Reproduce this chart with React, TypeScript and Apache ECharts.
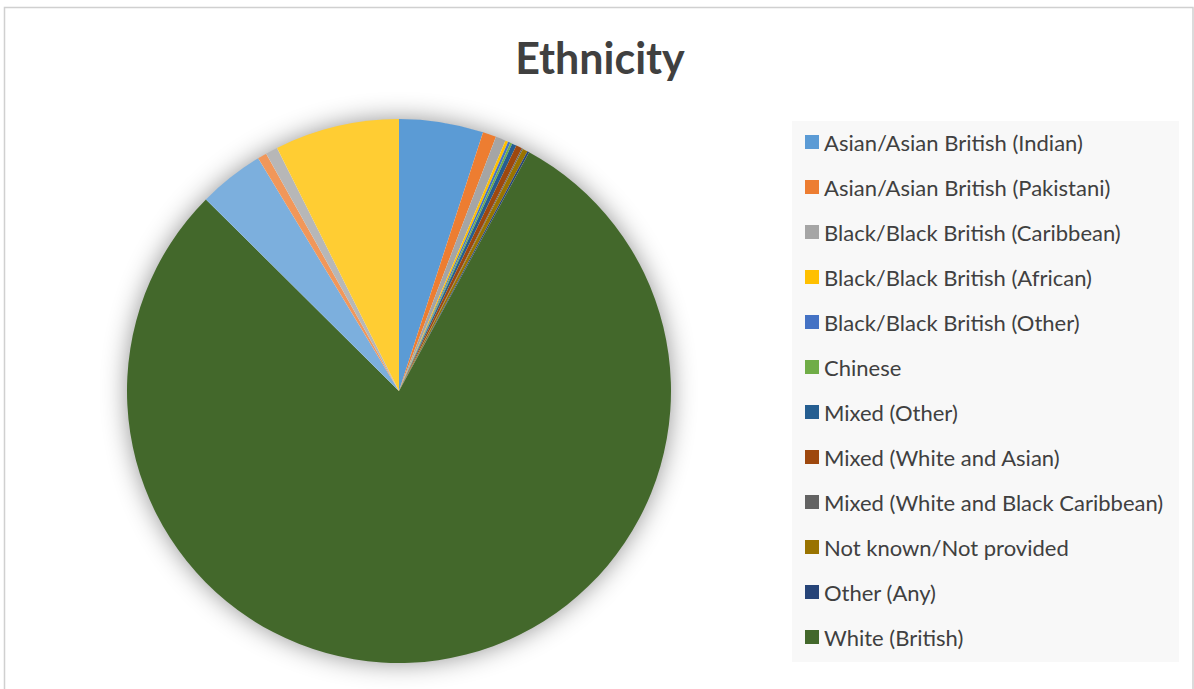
import React, { useEffect, useRef } from "react";
import * as echarts from "echarts";

const categories = [
  "Asian/Asian British (Indian)",
  "Asian/Asian British (Pakistani)",
  "Black/Black British (Caribbean)",
  "Black/Black British (African)",
  "Black/Black British (Other)",
  "Chinese",
  "Mixed (Other)",
  "Mixed (White and Asian)",
  "Mixed (White and Black Caribbean)",
  "Not known/Not provided",
  "Other (Any)",
  "White (British)",
];
// Points 13-16 of the source series, not listed in the legend
const extraCategories = ["Point 13", "Point 14", "Point 15", "Point 16"];

const values = [5.0, 0.8, 0.6, 0.17, 0.14, 0.12, 0.27, 0.36, 0.07, 0.3, 0.11, 79.5];
const extraValues = [3.9, 0.54, 0.72, 7.4];

const colors = [
  "#5B9BD5", "#ED7D31", "#A5A5A5", "#FFC000", "#4472C4", "#70AD47",
  "#255E91", "#9E480E", "#636363", "#997300", "#264478", "#43682B",
  "#7CAFDD", "#F1975A", "#B7B7B7", "#FFCD33",
];

const title = "Ethnicity";

export default function App() {
  const ref = useRef<HTMLDivElement>(null);
  useEffect(() => {
    if (!ref.current) return;
    const chart = echarts.init(ref.current, null, { renderer: "svg" });
    const names = [...categories, ...extraCategories];
    const vals = [...values, ...extraValues];
    const data = names.map((n, i) => ({
      name: n,
      value: vals[i],
      itemStyle: { color: colors[i] },
    }));
    chart.setOption({
      animation: false,
      backgroundColor: "#ffffff",
      graphic: [
        {
          type: "rect",
          shape: { x: 4.5, y: 7.5, width: 1188.5, height: 720 },
          style: { fill: "none", stroke: "#D0D0D0", lineWidth: 1.5 },
          silent: true,
          z: 0,
        },
        {
          type: "rect",
          shape: { x: 792, y: 121, width: 387, height: 541 },
          style: { fill: "#F8F8F8" },
          silent: true,
          z: 0,
        },
        {
          type: "text",
          x: 600,
          y: 57,
          style: {
            text: title,
            textAlign: "center",
            textVerticalAlign: "middle",
            fontFamily: "Lato",
            fontWeight: "bold",
            fontSize: 43,
            fill: "#404040",
          },
          silent: true,
          z: 3,
        },
      ],
      legend: {
        orient: "vertical",
        left: 792,
        top: 121,
        padding: [10, 10, 10, 13],
        data: categories,
        itemWidth: 14,
        itemHeight: 14,
        itemGap: 23,
        icon: "rect",
        textStyle: {
          fontFamily: "Lato",
          fontSize: 22,
          lineHeight: 22,
          color: "#404040",
        },
        z: 5,
      },
      series: [
        {
          type: "pie",
          silent: true,
          center: [399, 391],
          radius: [0, 271],
          label: { show: false },
          labelLine: { show: false },
          data: [
            {
              value: 1,
              name: "",
              itemStyle: {
                color: "#ffffff",
                shadowBlur: 26,
                shadowColor: "rgba(0,0,0,0.45)",
              },
            },
          ],
          z: 1,
        },
        {
          type: "pie",
          center: [399, 391],
          radius: [0, 272],
          startAngle: 90,
          clockwise: true,
          label: { show: false },
          labelLine: { show: false },
          itemStyle: { borderWidth: 0 },
          emphasis: { disabled: true },
          data,
          z: 2,
        },
      ],
    });
    return () => chart.dispose();
  }, []);
  return (
    <div
      ref={ref}
      style={{ position: "absolute", left: 0, top: 0, width: 1194, height: 689 }}
    />
  );
}
